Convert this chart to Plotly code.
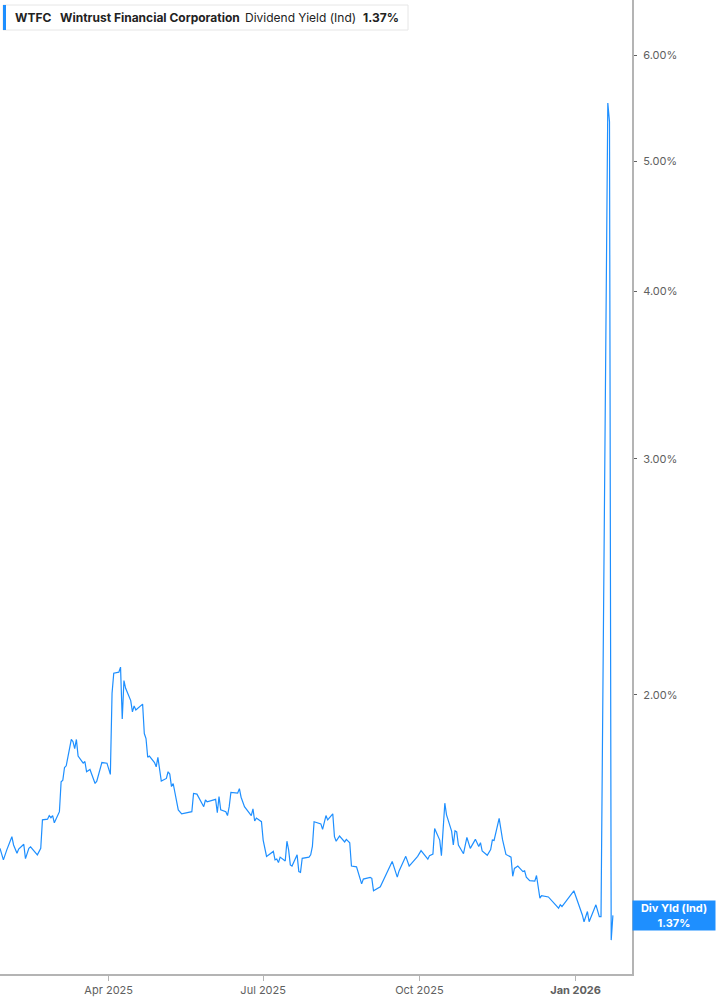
"""WTFC dividend yield (indicated) line chart, log scale, Plotly."""

import math

import plotly.graph_objects as go

LINE_BLUE = "#1e8fff"
AXIS_GREY = "#b4b4b4"
TICK_GREY = "#606060"

dates = [
    "2025-01-27", "2025-01-29", "2025-01-31", "2025-02-03", "2025-02-04", "2025-02-06",
    "2025-02-07", "2025-02-10", "2025-02-11", "2025-02-13", "2025-02-14", "2025-02-18",
    "2025-02-20", "2025-02-21", "2025-02-24", "2025-02-25", "2025-02-26", "2025-02-27",
    "2025-02-28", "2025-03-03", "2025-03-04", "2025-03-05", "2025-03-06", "2025-03-07",
    "2025-03-10", "2025-03-11", "2025-03-12", "2025-03-13", "2025-03-14", "2025-03-17",
    "2025-03-18", "2025-03-19", "2025-03-21", "2025-03-24", "2025-03-25", "2025-03-28",
    "2025-03-31", "2025-04-02", "2025-04-03", "2025-04-04", "2025-04-07", "2025-04-08",
    "2025-04-09", "2025-04-10", "2025-04-11", "2025-04-14", "2025-04-15", "2025-04-16",
    "2025-04-17", "2025-04-21", "2025-04-22", "2025-04-23", "2025-04-24", "2025-04-25",
    "2025-04-28", "2025-04-29", "2025-04-30", "2025-05-02", "2025-05-05", "2025-05-06",
    "2025-05-07", "2025-05-08", "2025-05-09", "2025-05-12", "2025-05-14", "2025-05-20",
    "2025-05-21", "2025-05-23", "2025-05-27", "2025-05-28", "2025-05-29", "2025-06-02",
    "2025-06-03", "2025-06-04", "2025-06-05", "2025-06-06", "2025-06-09", "2025-06-10",
    "2025-06-11", "2025-06-12", "2025-06-16", "2025-06-17", "2025-06-18", "2025-06-20",
    "2025-06-23", "2025-06-24", "2025-06-25", "2025-06-26", "2025-06-27", "2025-06-30",
    "2025-07-01", "2025-07-03", "2025-07-07", "2025-07-08", "2025-07-09", "2025-07-10",
    "2025-07-11", "2025-07-14", "2025-07-15", "2025-07-16", "2025-07-17", "2025-07-18",
    "2025-07-21", "2025-07-22", "2025-07-23", "2025-07-24", "2025-07-28", "2025-07-29",
    "2025-07-30", "2025-07-31", "2025-08-04", "2025-08-05", "2025-08-07", "2025-08-08",
    "2025-08-11", "2025-08-12", "2025-08-13", "2025-08-15", "2025-08-18", "2025-08-19",
    "2025-08-21", "2025-08-22", "2025-08-25", "2025-08-28", "2025-08-29", "2025-09-02",
    "2025-09-03", "2025-09-04", "2025-09-08", "2025-09-11", "2025-09-15", "2025-09-18",
    "2025-09-19", "2025-09-23", "2025-09-24", "2025-09-25", "2025-09-30", "2025-10-02",
    "2025-10-06", "2025-10-07", "2025-10-09", "2025-10-10", "2025-10-13", "2025-10-14",
    "2025-10-16", "2025-10-17", "2025-10-20", "2025-10-21", "2025-10-22", "2025-10-23",
    "2025-10-24", "2025-10-27", "2025-10-29", "2025-10-31", "2025-11-03", "2025-11-05",
    "2025-11-06", "2025-11-07", "2025-11-10", "2025-11-12", "2025-11-13", "2025-11-14",
    "2025-11-17", "2025-11-19", "2025-11-21", "2025-11-24", "2025-11-25", "2025-11-26",
    "2025-11-28", "2025-12-01", "2025-12-02", "2025-12-03", "2025-12-05", "2025-12-08",
    "2025-12-09", "2025-12-11", "2025-12-12", "2025-12-16", "2025-12-22", "2025-12-23",
    "2025-12-24", "2025-12-31", "2026-01-05", "2026-01-06", "2026-01-08", "2026-01-09",
    "2026-01-13", "2026-01-15", "2026-01-16", "2026-01-20", "2026-01-21", "2026-01-22",
    "2026-01-23",
]

div_yield = [
    1.537, 1.507, 1.533, 1.568, 1.546, 1.524,
    1.535, 1.548, 1.510, 1.537, 1.541, 1.520,
    1.537, 1.614, 1.616, 1.626, 1.620, 1.626,
    1.606, 1.637, 1.723, 1.728, 1.766, 1.771,
    1.853, 1.846, 1.824, 1.853, 1.801, 1.779,
    1.784, 1.753, 1.760, 1.718, 1.725, 1.781,
    1.779, 1.745, 2.006, 2.076, 2.080, 2.098,
    1.919, 2.050, 2.023, 1.981, 1.943, 1.963,
    1.949, 1.969, 1.872, 1.856, 1.797, 1.801,
    1.781, 1.768, 1.797, 1.725, 1.733, 1.753,
    1.746, 1.709, 1.718, 1.642, 1.631, 1.637,
    1.689, 1.687, 1.651, 1.670, 1.665, 1.672,
    1.672, 1.634, 1.680, 1.642, 1.637, 1.626,
    1.651, 1.692, 1.690, 1.703, 1.678, 1.651,
    1.631, 1.626, 1.645, 1.611, 1.619, 1.609,
    1.559, 1.516, 1.529, 1.507, 1.509, 1.500,
    1.514, 1.504, 1.556, 1.533, 1.494, 1.491,
    1.520, 1.477, 1.475, 1.511, 1.514, 1.520,
    1.542, 1.609, 1.603, 1.588, 1.626, 1.614,
    1.631, 1.568, 1.556, 1.570, 1.554, 1.561,
    1.552, 1.491, 1.489, 1.446, 1.458, 1.462,
    1.460, 1.429, 1.439, 1.465, 1.503, 1.463,
    1.478, 1.516, 1.503, 1.491, 1.516, 1.531,
    1.509, 1.518, 1.522, 1.590, 1.559, 1.518,
    1.661, 1.628, 1.583, 1.546, 1.584, 1.581,
    1.546, 1.523, 1.566, 1.537, 1.561, 1.542,
    1.552, 1.530, 1.519, 1.534, 1.559, 1.558,
    1.618, 1.560, 1.521, 1.514, 1.465, 1.485,
    1.491, 1.477, 1.479, 1.463, 1.454, 1.453,
    1.467, 1.411, 1.417, 1.414, 1.387, 1.395,
    1.391, 1.429, 1.371, 1.355, 1.379, 1.355,
    1.395, 1.367, 1.367, 5.526, 5.350, 1.313,
    1.370,
]

y_ticks = [2, 3, 4, 5, 6]
y_tick_labels = ["2.00%", "3.00%", "4.00%", "5.00%", "6.00%"]
x_ticks = ["2025-04-01", "2025-07-01", "2025-10-01", "2026-01-01"]
x_tick_labels = ["Apr 2025", "Jul 2025", "Oct 2025", "<b>Jan 2026</b>"]

last_value = 1.37

fig = go.Figure()
fig.add_trace(
    go.Scatter(
        x=dates,
        y=div_yield,
        mode="lines",
        line=dict(color=LINE_BLUE, width=1.2),
        hoverinfo="skip",
        showlegend=False,
    )
)

fig.update_xaxes(
    type="date",
    range=["2025-01-27", "2026-02-03 06:00"],
    tickvals=x_ticks,
    ticktext=x_tick_labels,
    ticks="outside",
    ticklen=5,
    tickcolor=AXIS_GREY,
    tickfont=dict(family="Inter", size=11, color=TICK_GREY),
    showline=True,
    linecolor=AXIS_GREY,
    linewidth=2,
    showgrid=False,
    zeroline=False,
)
fig.update_yaxes(
    type="log",
    range=[math.log10(1.2388), math.log10(6.5946)],
    side="right",
    tickvals=y_ticks,
    ticktext=y_tick_labels,
    ticks="outside",
    ticklen=3,
    tickcolor=TICK_GREY,
    tickfont=dict(family="Inter", size=11, color=TICK_GREY),
    ticklabelstandoff=4,
    showline=True,
    linecolor=AXIS_GREY,
    linewidth=2,
    showgrid=False,
    zeroline=False,
)

# header box with the series name
fig.add_shape(
    type="rect", xref="paper", yref="paper",
    x0=3 / 632, x1=408 / 632, y0=1 - 30 / 974, y1=1 - 5 / 974,
    line=dict(color="#e6e6e6", width=1), fillcolor="white", layer="above",
)
fig.add_shape(
    type="rect", xref="paper", yref="paper",
    x0=3 / 632, x1=6 / 632, y0=1 - 30 / 974, y1=1 - 5 / 974,
    line=dict(width=0), fillcolor=LINE_BLUE, layer="above",
)
header_parts = [
    (13, "<b>WTFC</b>"),
    (58, "<b>Wintrust Financial Corporation</b>"),
    (243, "Dividend Yield (Ind)"),
    (361, f"<b>{last_value:.2f}%</b>"),
]
for px, txt in header_parts:
    fig.add_annotation(
        x=px / 632, y=1 - 17.5 / 974, xref="paper", yref="paper",
        xanchor="left", yanchor="middle", showarrow=False,
        text=txt, font=dict(family="Inter", size=12, color="#222222"),
    )

# last value tag on the right axis
fig.add_annotation(
    x=1, y=math.log10(last_value), xref="paper", yref="y",
    xanchor="left", yanchor="middle", showarrow=False,
    text=f"<b>Div Yld (Ind)<br>{last_value:.2f}%</b>",
    font=dict(family="Inter", size=11, color="white"),
    bgcolor=LINE_BLUE, width=80, height=27, borderpad=1,
    align="center",
)

fig.update_layout(
    width=717,
    height=1005,
    margin=dict(l=0, r=85, t=0, b=31),
    paper_bgcolor="white",
    plot_bgcolor="white",
    font=dict(family="Inter"),
)

# drop the browser's default page margin so the figure sits at the top-left corner
fig.write_html(
    "out.html",
    config={"displayModeBar": False},
    post_script="document.body.style.margin = '0';",
)
